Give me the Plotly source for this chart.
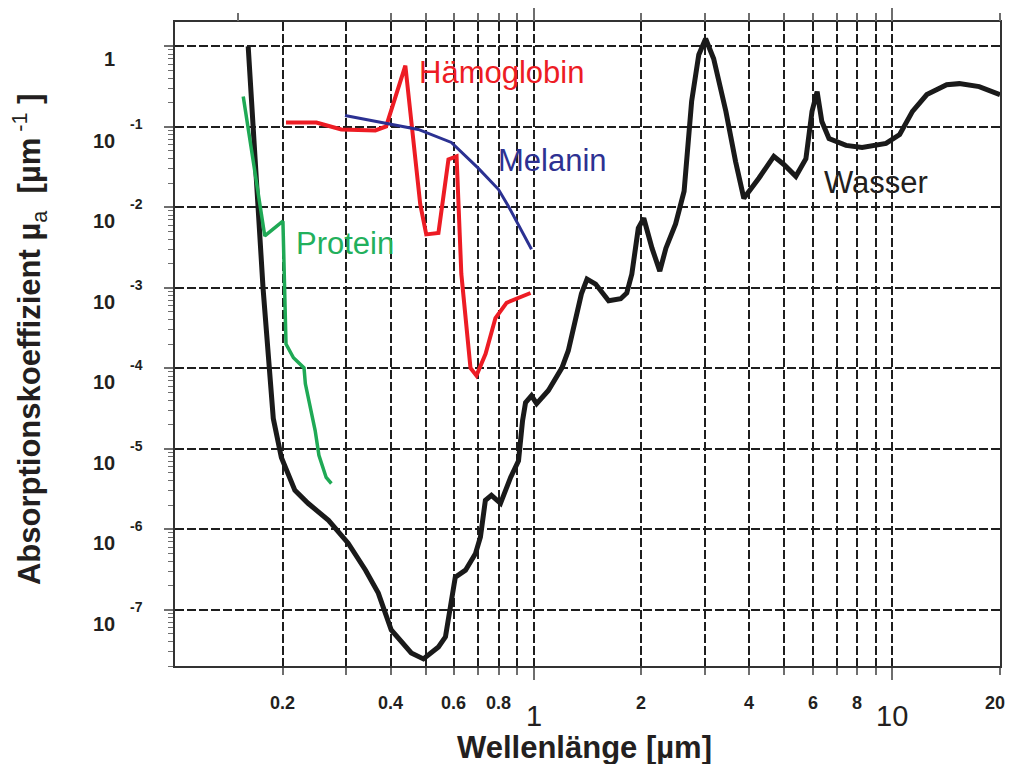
import plotly.graph_objects as go
import math

# ---------------- data ----------------
water_wl = [0.16, 0.174, 0.176, 0.188, 0.198, 0.216, 0.235, 0.268, 0.304, 0.340,
            0.369, 0.401, 0.456, 0.493, 0.543, 0.568, 0.586, 0.605, 0.646, 0.689,
            0.711, 0.734, 0.763, 0.809, 0.863, 0.908, 0.932, 0.950, 0.987, 1.02,
            1.10, 1.20, 1.25, 1.31, 1.36, 1.41, 1.49, 1.62, 1.75, 1.82,
            1.88, 1.96, 2.03, 2.14, 2.25, 2.34, 2.49, 2.63, 2.71, 2.76,
            2.89, 3.02, 3.18, 3.44, 3.66, 3.86, 4.25, 4.68, 4.99, 5.39,
            5.75, 5.98, 6.18, 6.37, 6.67, 7.44, 8.25, 9.62, 10.5, 11.4,
            12.5, 14.2, 15.4, 17.5, 20.0]
water_mu = [1.0, 2.14e-3, 1.0e-3, 2.37e-5, 7.8e-6, 3.04e-6, 2.1e-6, 1.29e-6, 6.7e-7, 3.1e-7,
            1.61e-7, 5.6e-8, 2.9e-8, 2.45e-8, 3.45e-8, 4.6e-8, 9.9e-8, 2.54e-7, 3.1e-7, 5.0e-7,
            8.0e-7, 2.29e-6, 2.64e-6, 2.1e-6, 4.4e-6, 7.1e-6, 2.24e-5, 3.74e-5, 4.57e-5, 3.64e-5,
            5.3e-5, 1.01e-4, 1.65e-4, 3.9e-4, 8.4e-4, 1.28e-3, 1.11e-3, 6.9e-4, 7.3e-4, 8.6e-4,
            1.48e-3, 5.5e-3, 7.3e-3, 3.1e-3, 1.61e-3, 3.1e-3, 6.2e-3, 1.58e-2, 7.1e-2, 0.206,
            0.785, 1.24, 0.70, 0.155, 0.037, 0.0129, 0.0229, 0.0428, 0.034, 0.0242,
            0.040, 0.155, 0.273, 0.116, 0.0715, 0.0586, 0.0553, 0.062, 0.080, 0.155,
            0.251, 0.333, 0.343, 0.315, 0.25]

protein_wl = [0.155, 0.178, 0.200, 0.204, 0.214, 0.229, 0.231, 0.246, 0.252, 0.264, 0.273]
protein_mu = [0.237, 4.4e-3, 6.7e-3, 2.0e-4, 1.35e-4, 1.01e-4, 6.4e-5, 1.68e-5, 8.3e-6, 4.4e-6, 3.7e-6]

hb_wl = [0.204, 0.248, 0.291, 0.362, 0.388, 0.439, 0.483, 0.502, 0.543, 0.579,
         0.610, 0.629, 0.667, 0.693, 0.735, 0.783, 0.841, 0.981]
hb_mu = [0.113, 0.113, 0.0925, 0.090, 0.101, 0.574, 0.0109, 4.6e-3, 4.8e-3, 0.0393,
         0.0428, 1.48e-3, 1.01e-4, 8.1e-5, 1.51e-4, 4.2e-4, 6.5e-4, 8.6e-4]

mel_wl = [0.298, 0.388, 0.477, 0.590, 0.702, 0.798, 0.851, 0.987]
mel_mu = [0.138, 0.110, 0.0925, 0.0638, 0.0304, 0.0167, 0.0103, 3.0e-3]

x_small_ticks = [0.2, 0.4, 0.6, 0.8, 2, 4, 6, 8, 20]
x_small_text = ["0.2", "0.4", "0.6", "0.8", "2", "4", "6", "8", "20"]
x_big_ticks = [1, 10]
x_big_text = ["1", "10"]
y_exponents = [0, -1, -2, -3, -4, -5, -6, -7]

# ---------------- styling ----------------
FONT = "Liberation Sans, Arial, sans-serif"
GRID_DASH = "9px,3px"
GRID_COL = "#1e1e1e"
TICK_COL = "#6e6e6e"

fig = go.Figure()

fig.add_trace(go.Scatter(x=water_wl, y=water_mu, mode="lines",
                         line=dict(color="#1a1a1a", width=5), showlegend=False))
fig.add_trace(go.Scatter(x=protein_wl, y=protein_mu, mode="lines",
                         line=dict(color="#1fa955", width=3.5), showlegend=False))
fig.add_trace(go.Scatter(x=hb_wl, y=hb_mu, mode="lines",
                         line=dict(color="#ed1c24", width=4), showlegend=False))
fig.add_trace(go.Scatter(x=mel_wl, y=mel_mu, mode="lines",
                         line=dict(color="#2b3192", width=3), showlegend=False))
# empty trace to carry the top tick axis
fig.add_trace(go.Scatter(x=[None], y=[None], xaxis="x2", showlegend=False, hoverinfo="skip"))

x_minor = [0.2, 0.3, 0.4, 0.5, 0.6, 0.7, 0.8, 0.9, 2, 3, 4, 5, 6, 7, 8, 9, 20]
x_top_minor = [0.15, 0.4, 0.5, 0.6, 0.7, 0.8, 0.9, 2, 3, 4, 5, 6, 7, 8, 9, 20]
y_minor = [k * 10.0 ** n for n in range(-8, 0) for k in range(2, 10)]
y_major = [10.0 ** e for e in y_exponents]

xrange_ = [-1.0, math.log10(20.0)]
yrange_ = [math.log10(2e-8), math.log10(2.0)]

fig.update_layout(
    width=1011, height=764,
    margin=dict(l=175, r=9, t=20, b=98),
    paper_bgcolor="white", plot_bgcolor="white",
    font=dict(family=FONT, color="#231f20"),
    showlegend=False,
    xaxis=dict(
        type="log", range=xrange_,
        tickmode="array", tickvals=x_big_ticks, showticklabels=False,
        ticks="outside", ticklen=12, tickwidth=1.5, tickcolor=TICK_COL,
        showgrid=True, gridcolor=GRID_COL, gridwidth=2, griddash=GRID_DASH,
        showline=True, linecolor="#333333", linewidth=1.5, mirror=True,
        minor=dict(tickmode="array", tickvals=x_minor, ticks="outside", ticklen=7,
                   tickwidth=1.5, tickcolor=TICK_COL,
                   showgrid=True, gridcolor=GRID_COL, gridwidth=2, griddash=GRID_DASH),
    ),
    xaxis2=dict(
        type="log", range=xrange_, overlaying="x", side="top", anchor="y",
        tickmode="array", tickvals=x_big_ticks, showticklabels=False,
        ticks="outside", ticklen=13, tickwidth=1.5, tickcolor=TICK_COL,
        showgrid=False, showline=False,
        minor=dict(tickmode="array", tickvals=x_top_minor, ticks="outside", ticklen=8,
                   tickwidth=1.5, tickcolor=TICK_COL, showgrid=False),
    ),
    yaxis=dict(
        type="log", range=yrange_,
        tickmode="array", tickvals=y_major, showticklabels=False,
        ticks="outside", ticklen=9, tickwidth=1.5, tickcolor=TICK_COL,
        showgrid=True, gridcolor=GRID_COL, gridwidth=2, griddash=GRID_DASH,
        showline=True, linecolor="#333333", linewidth=1.5, mirror=True,
        minor=dict(tickmode="array", tickvals=y_minor, ticks="outside", ticklen=5,
                   tickwidth=1.2, tickcolor=TICK_COL, showgrid=False),
    ),
)

ann = []
# x tick labels
for v, t in zip(x_small_ticks, x_small_text):
    ann.append(dict(x=math.log10(v), xref="x", y=0, yref="paper", yanchor="middle",
                    xanchor="center", yshift=-37, xshift=(-5 if v == 20 else 0),
                    text="<b>" + t + "</b>", showarrow=False,
                    font=dict(size=18, family=FONT, color="#231f20")))
for v, t in zip(x_big_ticks, x_big_text):
    ann.append(dict(x=math.log10(v), xref="x", y=0, yref="paper", yanchor="middle",
                    xanchor="center", yshift=-50, text=t, showarrow=False,
                    font=dict(size=29, family=FONT, color="#231f20")))
# y tick labels
for e in y_exponents:
    if e == 0:
        ann.append(dict(x=0, xref="paper", xshift=-58, xanchor="right",
                        y=e, yref="y", yshift=-13, yanchor="middle",
                        text="<b>1</b>", showarrow=False,
                        font=dict(size=20, family=FONT, color="#231f20")))
    else:
        ann.append(dict(x=0, xref="paper", xshift=-58, xanchor="right",
                        y=e, yref="y", yshift=-14, yanchor="middle",
                        text="<b>10</b>", showarrow=False,
                        font=dict(size=20, family=FONT, color="#231f20")))
        ann.append(dict(x=0, xref="paper", xshift=-47, xanchor="left",
                        y=e, yref="y", yshift=3, yanchor="middle",
                        text="<b>%d</b>" % e, showarrow=False,
                        font=dict(size=14, family=FONT, color="#231f20")))

# axis titles
ann.append(dict(x=(585 - 175) / 827, xref="paper", y=0, yref="paper", yshift=-81,
                xanchor="center", yanchor="middle",
                text="<b>Wellenlänge [µm]</b>", showarrow=False,
                font=dict(size=31, family=FONT, color="#231f20")))
ann.append(dict(x=0, xref="paper", xshift=-146, xanchor="center",
                y=(666 - 338) / 646, yref="paper", yanchor="middle", textangle=-90,
                text="<b>Absorptionskoeffizient µ</b><sub>a</sub>\u00a0\u00a0<b>[µm</b><sup>\u00a0-1</sup><b>\u00a0]</b>",
                showarrow=False, font=dict(size=31, family=FONT, color="#231f20")))

# curve labels
labels = [("Hämoglobin", -0.324, -0.322, "#ed1c24"),
          ("Melanin", -0.106, -1.418, "#2e3192"),
          ("Wasser", 0.804, -1.697, "#231f20"),
          ("Protein", -0.668, -2.452, "#22b05c")]
for t, lx, ly, c in labels:
    ann.append(dict(x=lx, xref="x", y=ly, yref="y", xanchor="left", yanchor="middle",
                    text=t, showarrow=False, font=dict(size=31, family=FONT, color=c)))

fig.update_layout(annotations=ann)
fig.write_html("out.html")
